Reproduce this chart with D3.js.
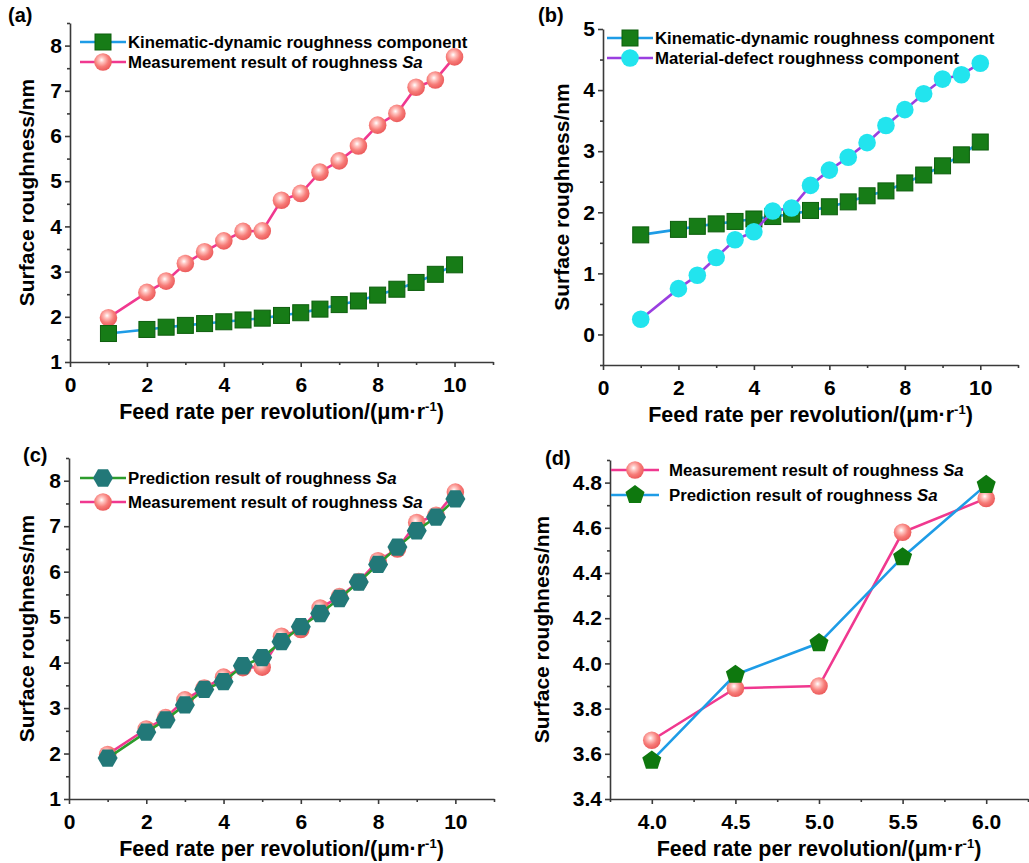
<!DOCTYPE html>
<html>
<head>
<meta charset="utf-8">
<script src="https://cdn.jsdelivr.net/npm/d3@7"></script>
<style>
  body { margin: 0; background: #fff; }
  text { font-family: "Liberation Sans", Arial, sans-serif; font-weight: bold; fill: #000; }
  .axis path, .axis line { stroke: #3a3a3a; stroke-width: 1.6; }
</style>
</head>
<body>
<div id="chart"></div>
<script>
// Data
var feedRate = [1, 2, 2.5, 3, 3.5, 4, 4.5, 5, 5.5, 6, 6.5, 7, 7.5, 8, 8.5, 9, 9.5, 10];
var kinematicSa = [1.63, 1.72, 1.77, 1.81, 1.85, 1.89, 1.93, 1.97, 2.03, 2.09, 2.17, 2.27, 2.35, 2.48, 2.61, 2.76, 2.94, 3.15];
var measuredSa = [1.98, 2.54, 2.79, 3.18, 3.44, 3.68, 3.89, 3.9, 4.58, 4.73, 5.2, 5.45, 5.78, 6.24, 6.5, 7.08, 7.24, 7.75];
var materialSa = [0.25, 0.75, 0.97, 1.26, 1.55, 1.68, 2.02, 2.07, 2.44, 2.69, 2.9, 3.14, 3.42, 3.68, 3.94, 4.18, 4.25, 4.44];
var predictedSa = [1.9, 2.47, 2.74, 3.07, 3.41, 3.58, 3.93, 4.11, 4.46, 4.79, 5.08, 5.41, 5.77, 6.16, 6.54, 6.9, 7.2, 7.6];

var feedRateZoom = [4.0, 4.5, 5.0, 5.5, 6.0];
var measuredZoom = [3.66, 3.89, 3.9, 4.58, 4.73];
var predictedZoom = [3.57, 3.95, 4.09, 4.47, 4.79];

var xTitle = "Feed rate per revolution/(\u03bcm\u00b7r";
var yTitle = "Surface roughness/nm";

var svg = d3.select("#chart").append("svg")
  .attr("width", 1029)
  .attr("height", 863);

// gradient for the pink spheres
var defs = svg.append("defs");
var grad = defs.append("radialGradient").attr("id", "pinkBall")
  .attr("cx", "42%").attr("cy", "38%").attr("r", "60%");
grad.append("stop").attr("offset", "0%").attr("stop-color", "#ffffff");
grad.append("stop").attr("offset", "25%").attr("stop-color", "#ffc4c0");
grad.append("stop").attr("offset", "65%").attr("stop-color", "#f77c78");
grad.append("stop").attr("offset", "100%").attr("stop-color", "#ec5e5e");

function polygonPath(n, r, rot) {
  var pts = d3.range(n).map(function(i) {
    var a = rot + i * 2 * Math.PI / n;
    return [r * Math.cos(a), r * Math.sin(a)];
  });
  return "M" + pts.join("L") + "Z";
}

// marker painters
var markers = {
  square: function(g) {
    g.append("rect").attr("x", -8).attr("y", -8).attr("width", 16).attr("height", 16)
      .attr("fill", "#177c17").attr("stroke", "#0d5e0d").attr("stroke-width", 1);
  },
  pink: function(g) {
    g.append("circle").attr("r", 8.8).attr("fill", "url(#pinkBall)");
  },
  cyan: function(g) {
    g.append("circle").attr("r", 8.8).attr("fill", "#22e4ee");
  },
  hexagon: function(g) {
    g.append("path").attr("d", polygonPath(6, 10, 0)).attr("fill", "#227878");
  },
  pentagon: function(g) {
    g.append("path").attr("d", polygonPath(5, 10, -Math.PI / 2)).attr("fill", "#0e780e");
  }
};

function styleTicks(sel) {
  sel.attr("font-size", null).attr("font-family", null);
  sel.selectAll("text").style("font-size", "21px");
}

function drawPanel(p) {
  var x = d3.scaleLinear().domain(p.xDomain).range([p.left, p.right]);
  var y = d3.scaleLinear().domain(p.yDomain).range([p.bottom, p.top]);

  // minor ticks
  svg.append("g").attr("class", "axis")
    .attr("transform", "translate(0," + p.bottom + ")")
    .call(d3.axisBottom(x).tickValues(p.xMinor).tickSize(3).tickFormat(""))
    .select(".domain").remove();
  svg.append("g").attr("class", "axis")
    .attr("transform", "translate(" + p.left + ",0)")
    .call(d3.axisLeft(y).tickValues(p.yMinor).tickSize(3).tickFormat(""))
    .select(".domain").remove();

  // major ticks
  svg.append("g").attr("class", "axis")
    .attr("transform", "translate(0," + p.bottom + ")")
    .call(d3.axisBottom(x).tickValues(p.xTicks).tickSize(5).tickSizeOuter(0)
      .tickPadding(10).tickFormat(d3.format(p.xFormat)))
    .call(styleTicks);
  svg.append("g").attr("class", "axis")
    .attr("transform", "translate(" + p.left + ",0)")
    .call(d3.axisLeft(y).tickValues(p.yTicks).tickSize(5).tickSizeOuter(0)
      .tickPadding(3).tickFormat(d3.format(p.yFormat)))
    .call(styleTicks);

  // axis titles
  var xt = svg.append("text")
    .attr("x", (p.left + p.right) / 2).attr("y", p.bottom + 57)
    .attr("text-anchor", "middle").style("font-size", "21.5px")
    .text(xTitle);
  xt.append("tspan").attr("dy", -8).style("font-size", "13px").text("-1");
  xt.append("tspan").attr("dy", 8).text(")");

  svg.append("text")
    .attr("transform", "translate(" + p.yTitleX + "," + (p.top + p.bottom) / 2 + ") rotate(-90)")
    .attr("text-anchor", "middle").style("font-size", "21px")
    .text(yTitle);

  svg.append("text").attr("x", p.tagX).attr("y", p.tagY)
    .style("font-size", "20px").text(p.tag);

  // series
  p.series.forEach(function(s) {
    var pts = s.xs.map(function(v, i) { return [x(v), y(s.ys[i])]; });
    svg.append("path")
      .attr("d", d3.line()(pts))
      .attr("fill", "none").attr("stroke", s.lineColor).attr("stroke-width", 2.6);
    pts.forEach(function(pt) {
      var g = svg.append("g").attr("transform", "translate(" + pt[0] + "," + pt[1] + ")");
      markers[s.marker](g);
    });
  });

  // legend
  p.legend.forEach(function(s, i) {
    var ly = p.legendY + i * p.legendGap;
    svg.append("line")
      .attr("x1", p.legendX).attr("x2", p.legendX + p.legendLen)
      .attr("y1", ly).attr("y2", ly)
      .attr("stroke", s.lineColor).attr("stroke-width", 2.6);
    var g = svg.append("g")
      .attr("transform", "translate(" + (p.legendX + p.legendLen / 2) + "," + ly + ")");
    markers[s.marker](g);
    var t = svg.append("text")
      .attr("x", p.legendX + p.legendLen + p.legendPad).attr("y", ly + 6)
      .style("font-size", "16.8px").text(s.name);
    if (s.italic) t.append("tspan").style("font-style", "italic").text(" " + s.italic);
  });
}

var kin = { xs: feedRate, ys: kinematicSa, lineColor: "#1e9ce6", marker: "square",
  name: "Kinematic-dynamic roughness component" };
var meas = { xs: feedRate, ys: measuredSa, lineColor: "#f0388f", marker: "pink",
  name: "Measurement result of roughness", italic: "Sa" };
var mat = { xs: feedRate, ys: materialSa, lineColor: "#9a3fe0", marker: "cyan",
  name: "Material-defect roughness component" };
var pred = { xs: feedRate, ys: predictedSa, lineColor: "#2c9c2c", marker: "hexagon",
  name: "Prediction result of roughness", italic: "Sa" };
var measZ = { xs: feedRateZoom, ys: measuredZoom, lineColor: "#f0388f", marker: "pink",
  name: "Measurement result of roughness", italic: "Sa" };
var predZ = { xs: feedRateZoom, ys: predictedZoom, lineColor: "#1e9ce6", marker: "pentagon",
  name: "Prediction result of roughness", italic: "Sa" };

var fullTicksX = [0, 2, 4, 6, 8, 10];
var fullMinorX = [1, 3, 5, 7, 9, 11];

// (a)
drawPanel({
  tag: "(a)", tagX: 8, tagY: 22,
  left: 70, right: 493, top: 23, bottom: 362,
  xDomain: [0, 11], yDomain: [1, 8.5],
  xTicks: fullTicksX, xMinor: fullMinorX, xFormat: "d",
  yTicks: [1, 2, 3, 4, 5, 6, 7, 8], yMinor: [1.5, 2.5, 3.5, 4.5, 5.5, 6.5, 7.5, 8.5], yFormat: "d",
  yTitleX: 34,
  series: [meas, kin],
  legend: [kin, meas], legendX: 80, legendY: 42, legendGap: 20, legendLen: 46, legendPad: 2
});

// (b)
drawPanel({
  tag: "(b)", tagX: 538, tagY: 22,
  left: 603, right: 1018, top: 29, bottom: 365,
  xDomain: [0, 11], yDomain: [-0.5, 5],
  xTicks: fullTicksX, xMinor: fullMinorX, xFormat: "d",
  yTicks: [0, 1, 2, 3, 4, 5], yMinor: [-0.5, 0.5, 1.5, 2.5, 3.5, 4.5], yFormat: "d",
  yTitleX: 569,
  series: [kin, mat],
  legend: [kin, mat], legendX: 607, legendY: 38, legendGap: 20, legendLen: 46, legendPad: 2
});

// (c)
drawPanel({
  tag: "(c)", tagX: 23, tagY: 462,
  left: 69, right: 494, top: 458, bottom: 799,
  xDomain: [0, 11], yDomain: [1, 8.5],
  xTicks: fullTicksX, xMinor: fullMinorX, xFormat: "d",
  yTicks: [1, 2, 3, 4, 5, 6, 7, 8], yMinor: [1.5, 2.5, 3.5, 4.5, 5.5, 6.5, 7.5, 8.5], yFormat: "d",
  yTitleX: 34,
  series: [meas, pred],
  legend: [pred, meas], legendX: 80, legendY: 478, legendGap: 24, legendLen: 46, legendPad: 2
});

// (d)
drawPanel({
  tag: "(d)", tagX: 545, tagY: 465,
  left: 610, right: 1028, top: 460, bottom: 799,
  xDomain: [3.75, 6.25], yDomain: [3.4, 4.9],
  xTicks: [4, 4.5, 5, 5.5, 6], xMinor: [3.75, 4.25, 4.75, 5.25, 5.75, 6.25], xFormat: ".1f",
  yTicks: [3.4, 3.6, 3.8, 4.0, 4.2, 4.4, 4.6, 4.8], yMinor: [3.5, 3.7, 3.9, 4.1, 4.3, 4.5, 4.7, 4.9], yFormat: ".1f",
  yTitleX: 549,
  series: [measZ, predZ],
  legend: [measZ, predZ], legendX: 611, legendY: 470, legendGap: 25, legendLen: 48, legendPad: 10
});
</script>
</body>
</html>
